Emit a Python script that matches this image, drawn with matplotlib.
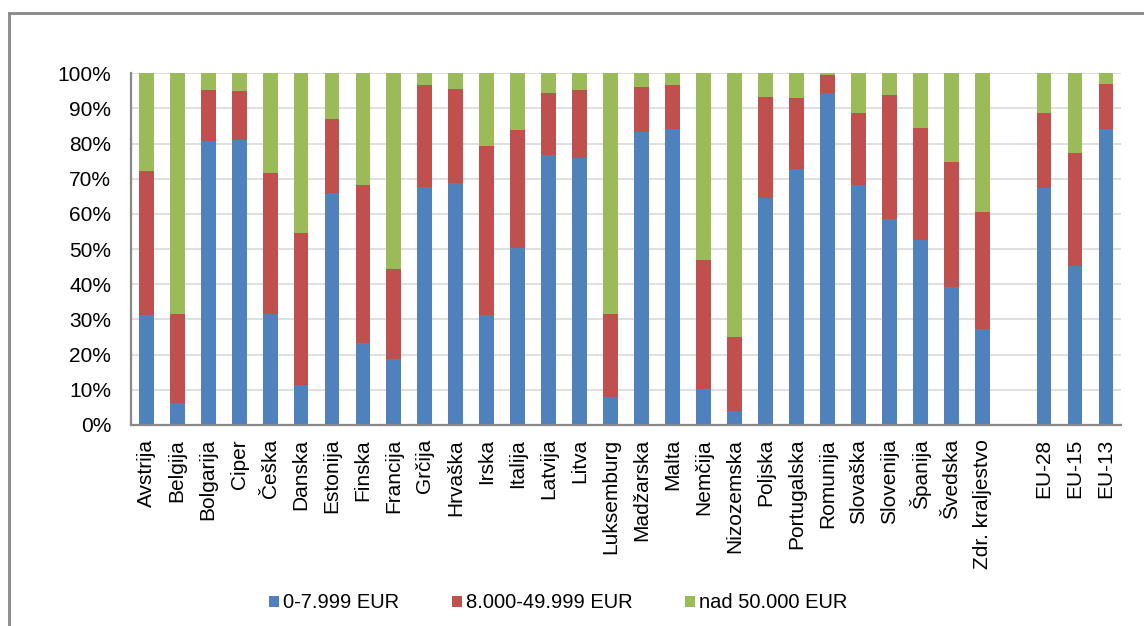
import numpy as np
import matplotlib
matplotlib.use("Agg")
from matplotlib import pyplot as plt
from matplotlib.patches import Patch
from matplotlib.lines import Line2D

countries = ['Avstrija', 'Belgija', 'Bolgarija', 'Ciper', 'Češka', 'Danska', 'Estonija',
             'Finska', 'Francija', 'Grčija', 'Hrvaška', 'Irska', 'Italija', 'Latvija',
             'Litva', 'Luksemburg', 'Madžarska', 'Malta', 'Nemčija', 'Nizozemska',
             'Poljska', 'Portugalska', 'Romunija', 'Slovaška', 'Slovenija', 'Španija',
             'Švedska', 'Zdr. kraljestvo', '', 'EU-28', 'EU-15', 'EU-13']

# cumulative shares (blue top, red top), in %
blue_top = [31.2, 6.2, 80.8, 81.1, 31.7, 11.4, 66.0, 23.2, 18.7, 67.6, 68.9, 31.2, 50.4, 76.7,
            76.0, 7.9, 83.4, 84.2, 10.1, 3.9, 64.5, 72.7, 94.5, 68.2, 58.6, 52.7, 39.1, 27.2,
            np.nan, 67.5, 45.3, 84.2]
red_top = [72.3, 31.7, 95.3, 94.9, 71.6, 54.6, 87.1, 68.2, 44.3, 96.8, 95.5, 79.3, 83.8, 94.5,
           95.3, 31.7, 96.0, 96.8, 46.8, 25.0, 93.4, 93.0, 99.6, 88.6, 93.8, 84.5, 74.9, 60.5,
           np.nan, 88.6, 77.2, 97.1]

low = np.array(blue_top)
mid = np.array(red_top) - low
high = 100 - np.array(red_top)

series_names = ['0-7.999 EUR', '8.000-49.999 EUR', 'nad 50.000 EUR']
colors = ['#4F81BD', '#C0504D', '#9BBB59']

plt.rcParams['font.family'] = ['Liberation Sans', 'DejaVu Sans']

fig = plt.figure(figsize=(11.44, 6.26), dpi=100)
ax = fig.add_axes([0.1143, 0.3211, 0.866, 0.5618])

x = np.arange(len(countries))
w = 0.48
ax.bar(x, low, w, color=colors[0], zorder=3)
ax.bar(x, mid, w, bottom=low, color=colors[1], zorder=3)
ax.bar(x, high, w, bottom=low + mid, color=colors[2], zorder=3)

ax.set_xlim(-0.5, len(countries) - 0.5)
ax.set_ylim(0, 100)
ax.set_yticks(np.arange(0, 101, 10))
ax.set_yticklabels([f'{v}%' for v in range(0, 101, 10)], fontsize=15)
ax.set_xticks(x)
ax.set_xticklabels(countries, rotation=90, fontsize=15)
ax.tick_params(axis='both', length=0, colors='black')
ax.tick_params(axis='y', pad=14)
ax.tick_params(axis='x', pad=10)
ax.grid(axis='y', color='#D9D9D9', linewidth=1.2, zorder=0)

for s in ['top', 'right']:
    ax.spines[s].set_visible(False)
for s in ['left', 'bottom']:
    ax.spines[s].set_color('#888888')
    ax.spines[s].set_linewidth(1.6)
    ax.spines[s].set_zorder(4)

handles = [Patch(facecolor=c, edgecolor='none') for c in colors]
fig.legend(handles, series_names, loc='center', bbox_to_anchor=(0.488, 1 - 603 / 626),
           ncol=3, frameon=False, fontsize=14.5, handlelength=0.5, handleheight=0.5,
           handletextpad=0.2, columnspacing=2.6)

# outer chart frame
fig.add_artist(Line2D([9 / 1144, 1], [1 - 12.5 / 626] * 2, color='#888888', linewidth=2))
fig.add_artist(Line2D([9 / 1144] * 2, [0, 1 - 12.5 / 626], color='#888888', linewidth=2))

fig.savefig('out.png', dpi=100)
